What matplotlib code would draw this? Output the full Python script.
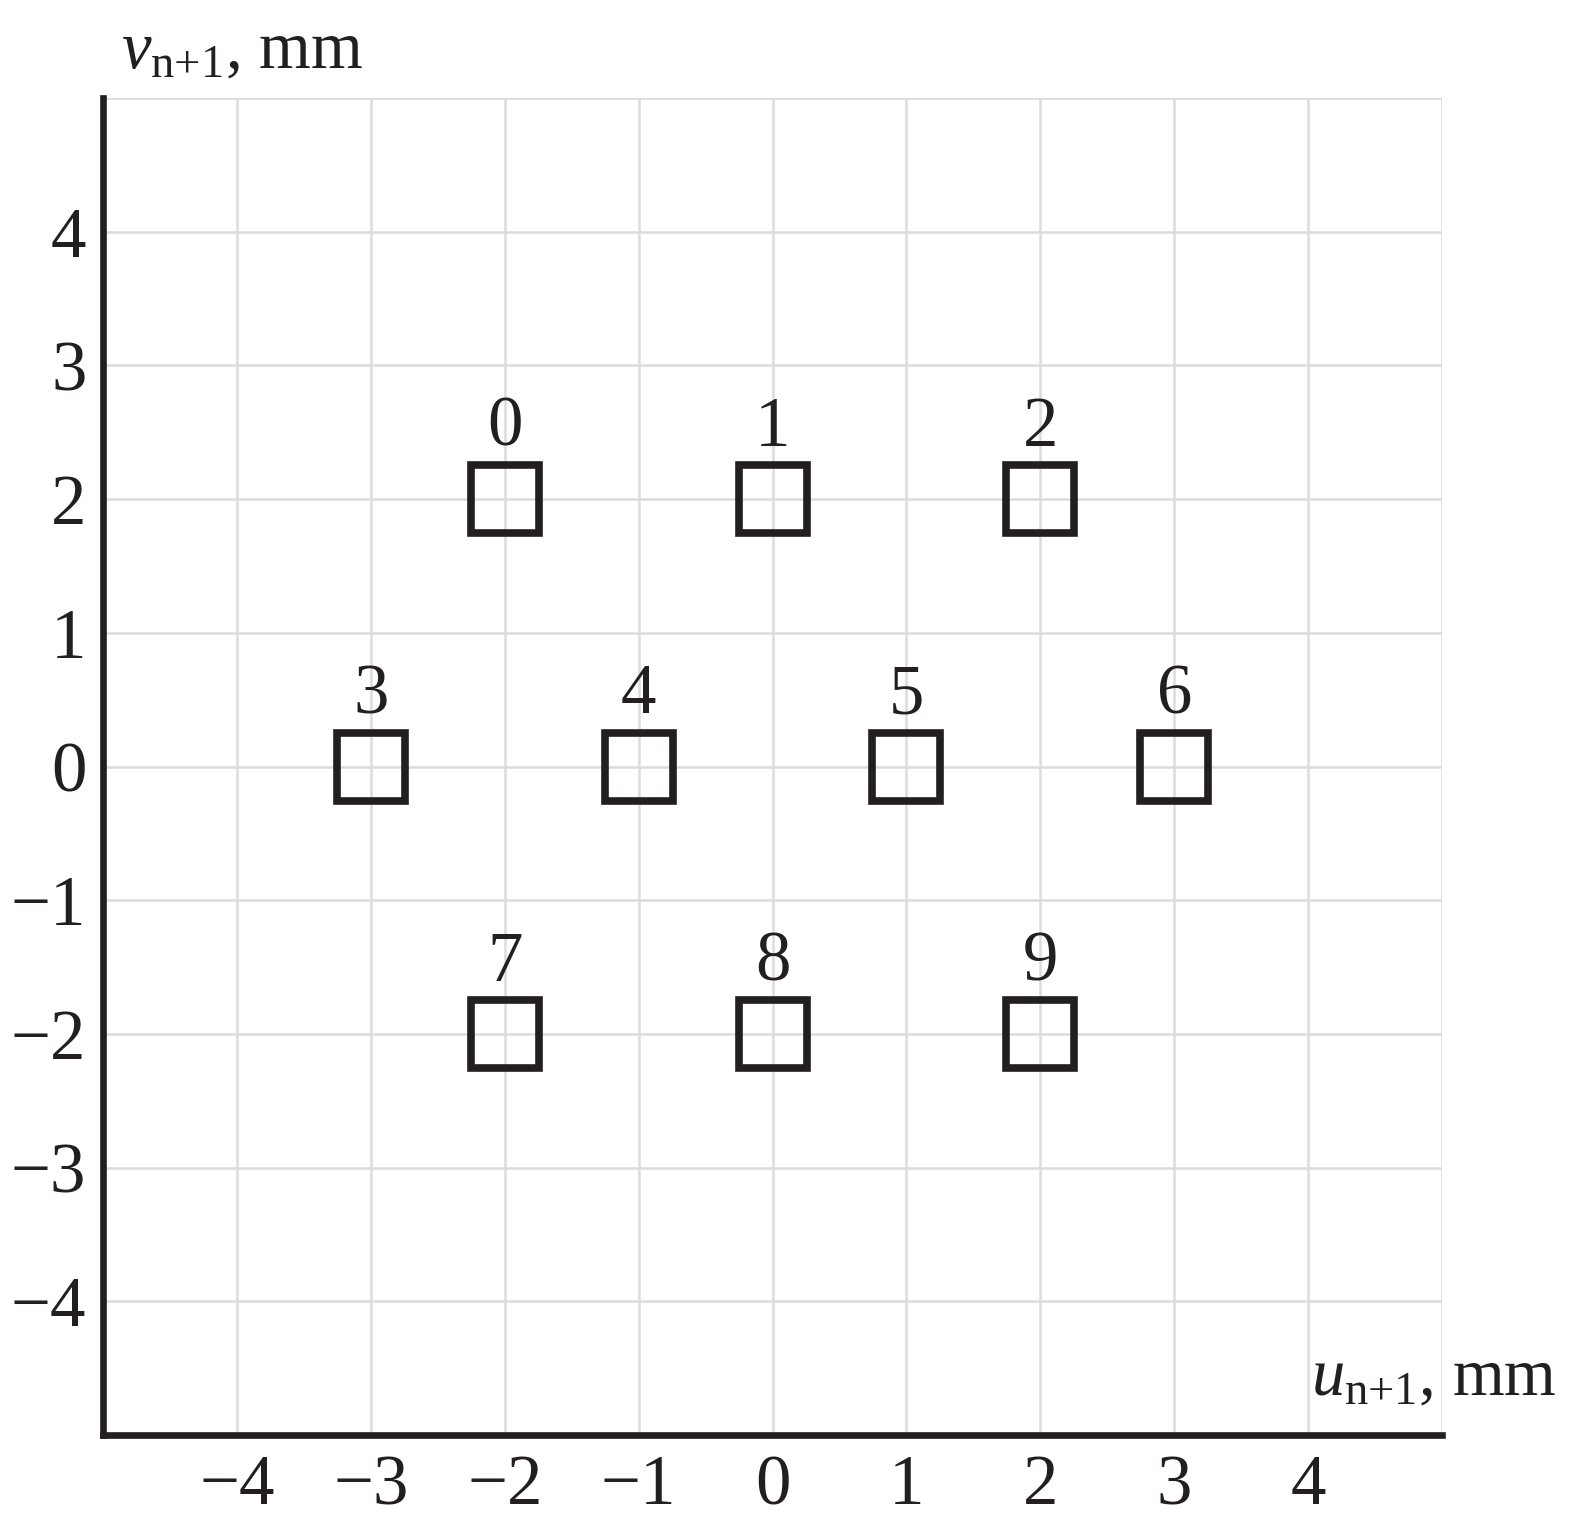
import matplotlib
matplotlib.use("Agg")
import matplotlib.pyplot as plt

plt.rcParams['font.family'] = ['Liberation Serif', 'DejaVu Serif']
plt.rcParams['mathtext.fontset'] = 'custom'
plt.rcParams['mathtext.rm'] = 'Liberation Serif'
plt.rcParams['mathtext.it'] = 'Liberation Serif:italic'

u_vals = [-2, 0, 2, -3, -1, 1, 3, -2, 0, 2]
v_vals = [2, 2, 2, 0, 0, 0, 0, -2, -2, -2]
point_labels = ["0", "1", "2", "3", "4", "5", "6", "7", "8", "9"]
ticks = [-4, -3, -2, -1, 0, 1, 2, 3, 4]
tick_labels = ["\u2212" + str(-t) if t < 0 else str(t) for t in ticks]

ink = "#231f20"
fig = plt.figure(figsize=(15.8, 15.32), dpi=100)
ax = fig.add_axes([0.0652, 0.0633, 0.8475, 0.8727])
ax.set_xlim(-5, 5)
ax.set_ylim(-5, 5)
ax.set_xticks(ticks)
ax.set_yticks(ticks)
ax.set_xticklabels(tick_labels)
ax.set_yticklabels(tick_labels)
ax.tick_params(length=0, labelsize=51, colors=ink)
ax.tick_params(axis='x', pad=14)
ax.tick_params(axis='y', pad=12)
for v in [-4, -3, -2, -1, 0, 1, 2, 3, 4, 5]:
    ax.axvline(v, color="#dcdcdc", lw=1.8, zorder=0)
    ax.axhline(v, color="#dcdcdc", lw=1.8, zorder=0)
for s in ['top', 'right']:
    ax.spines[s].set_visible(False)
for s in ['left', 'bottom']:
    ax.spines[s].set_linewidth(4.8)
    ax.spines[s].set_color(ink)
    ax.spines[s].set_capstyle('projecting')

ax.plot(u_vals, v_vals, linestyle='none', marker='s', markersize=49,
        markerfacecolor='none', markeredgecolor=ink, markeredgewidth=5.5, zorder=3)
for x, y, lab in zip(u_vals, v_vals, point_labels):
    ax.text(x, y + 0.53, lab, ha='center', va='center', fontsize=51, color=ink)

fig.text(0.985, 0.0894, r"$u_{\mathrm{n{+}1}}$, mm", fontsize=48, color=ink,
         ha='right', va='baseline')
fig.text(0.0766, 0.956, r"$v_{\mathrm{n{+}1}}$, mm", fontsize=48, color=ink,
         ha='left', va='baseline')

fig.savefig("out.png", dpi=100, facecolor="white")
